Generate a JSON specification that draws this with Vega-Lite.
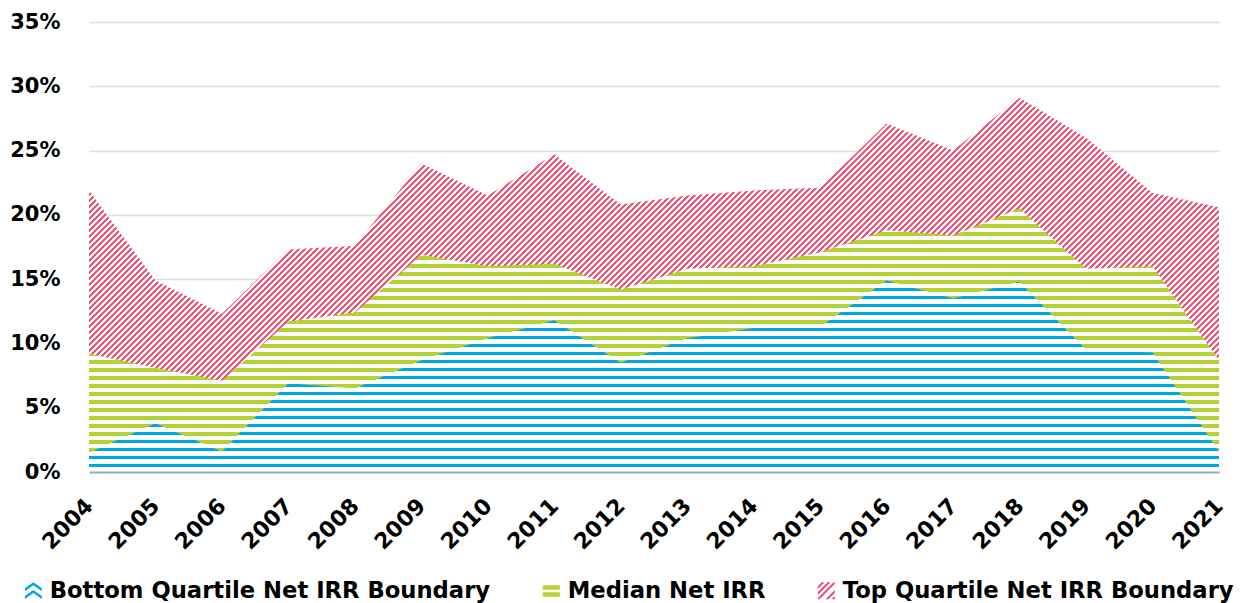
{
"$schema":"https://vega.github.io/schema/vega-lite/v6.json",
"width":1130,"height":450,
"autosize":{"type":"none"},
"padding":{"left":89,"top":22,"right":25,"bottom":131},
"background":"white",
"data":{"values":[
{"year":"2004","top":21.9,"median":9.2,"bottom":1.5},
{"year":"2005","top":14.9,"median":8.1,"bottom":3.8},
{"year":"2006","top":12.3,"median":7.1,"bottom":1.6},
{"year":"2007","top":17.3,"median":11.7,"bottom":6.9},
{"year":"2008","top":17.6,"median":12.4,"bottom":6.5},
{"year":"2009","top":24.0,"median":16.9,"bottom":8.7},
{"year":"2010","top":21.5,"median":16.0,"bottom":10.4},
{"year":"2011","top":24.7,"median":16.2,"bottom":11.8},
{"year":"2012","top":20.8,"median":14.2,"bottom":8.5},
{"year":"2013","top":21.5,"median":15.8,"bottom":10.4},
{"year":"2014","top":21.9,"median":16.0,"bottom":11.2},
{"year":"2015","top":22.1,"median":17.1,"bottom":11.3},
{"year":"2016","top":27.1,"median":18.8,"bottom":14.9},
{"year":"2017","top":25.0,"median":18.4,"bottom":13.5},
{"year":"2018","top":29.1,"median":20.5,"bottom":14.8},
{"year":"2019","top":26.0,"median":15.8,"bottom":9.5},
{"year":"2020","top":21.7,"median":16.0,"bottom":9.3},
{"year":"2021","top":20.6,"median":8.7,"bottom":1.6}
]},
"encoding":{"x":{"field":"year","type":"ordinal","scale":{"type":"point","padding":0},"title":null,
"axis":{"labelAngle":-45,"labelAlign":"right","labelBaseline":"middle","labelPadding":30,"labelFont":"DejaVu Sans","labelFontSize":22,"labelFontWeight":"bold","labelColor":"#000","domainColor":"#8fb1ca","domainWidth":2,"ticks":false,"tickSize":0,"grid":false,"zindex":1}}},
"layer":[
{"mark":{"type":"area","interpolate":"linear","opacity":1,"fill":{"gradient":"linear","x1":0,"y1":0,"x2":1.19629,"y2":0.39609,"stops":[
{"offset":0.000,"color":"#e57"},{"offset":0.002,"color":"#e57"},{"offset":0.002,"color":"#fff"},{"offset":0.004,"color":"#fff"},
{"offset":0.004,"color":"#e57"},{"offset":0.006,"color":"#e57"},{"offset":0.006,"color":"#fff"},{"offset":0.008,"color":"#fff"},
{"offset":0.008,"color":"#e57"},{"offset":0.010,"color":"#e57"},{"offset":0.010,"color":"#fff"},{"offset":0.012,"color":"#fff"},
{"offset":0.012,"color":"#e57"},{"offset":0.014,"color":"#e57"},{"offset":0.014,"color":"#fff"},{"offset":0.016,"color":"#fff"},
{"offset":0.016,"color":"#e57"},{"offset":0.018,"color":"#e57"},{"offset":0.018,"color":"#fff"},{"offset":0.020,"color":"#fff"},
{"offset":0.020,"color":"#e57"},{"offset":0.022,"color":"#e57"},{"offset":0.022,"color":"#fff"},{"offset":0.024,"color":"#fff"},
{"offset":0.024,"color":"#e57"},{"offset":0.026,"color":"#e57"},{"offset":0.026,"color":"#fff"},{"offset":0.028,"color":"#fff"},
{"offset":0.028,"color":"#e57"},{"offset":0.030,"color":"#e57"},{"offset":0.030,"color":"#fff"},{"offset":0.032,"color":"#fff"},
{"offset":0.032,"color":"#e57"},{"offset":0.034,"color":"#e57"},{"offset":0.034,"color":"#fff"},{"offset":0.036,"color":"#fff"},
{"offset":0.036,"color":"#e57"},{"offset":0.038,"color":"#e57"},{"offset":0.038,"color":"#fff"},{"offset":0.040,"color":"#fff"},
{"offset":0.040,"color":"#e57"},{"offset":0.042,"color":"#e57"},{"offset":0.042,"color":"#fff"},{"offset":0.044,"color":"#fff"},
{"offset":0.044,"color":"#e57"},{"offset":0.046,"color":"#e57"},{"offset":0.046,"color":"#fff"},{"offset":0.048,"color":"#fff"},
{"offset":0.048,"color":"#e57"},{"offset":0.050,"color":"#e57"},{"offset":0.050,"color":"#fff"},{"offset":0.052,"color":"#fff"},
{"offset":0.052,"color":"#e57"},{"offset":0.054,"color":"#e57"},{"offset":0.054,"color":"#fff"},{"offset":0.056,"color":"#fff"},
{"offset":0.056,"color":"#e57"},{"offset":0.058,"color":"#e57"},{"offset":0.058,"color":"#fff"},{"offset":0.060,"color":"#fff"},
{"offset":0.060,"color":"#e57"},{"offset":0.062,"color":"#e57"},{"offset":0.062,"color":"#fff"},{"offset":0.064,"color":"#fff"},
{"offset":0.064,"color":"#e57"},{"offset":0.066,"color":"#e57"},{"offset":0.066,"color":"#fff"},{"offset":0.068,"color":"#fff"},
{"offset":0.068,"color":"#e57"},{"offset":0.070,"color":"#e57"},{"offset":0.070,"color":"#fff"},{"offset":0.072,"color":"#fff"},
{"offset":0.072,"color":"#e57"},{"offset":0.074,"color":"#e57"},{"offset":0.074,"color":"#fff"},{"offset":0.076,"color":"#fff"},
{"offset":0.076,"color":"#e57"},{"offset":0.078,"color":"#e57"},{"offset":0.078,"color":"#fff"},{"offset":0.080,"color":"#fff"},
{"offset":0.080,"color":"#e57"},{"offset":0.082,"color":"#e57"},{"offset":0.082,"color":"#fff"},{"offset":0.084,"color":"#fff"},
{"offset":0.084,"color":"#e57"},{"offset":0.086,"color":"#e57"},{"offset":0.086,"color":"#fff"},{"offset":0.088,"color":"#fff"},
{"offset":0.088,"color":"#e57"},{"offset":0.090,"color":"#e57"},{"offset":0.090,"color":"#fff"},{"offset":0.092,"color":"#fff"},
{"offset":0.092,"color":"#e57"},{"offset":0.094,"color":"#e57"},{"offset":0.094,"color":"#fff"},{"offset":0.096,"color":"#fff"},
{"offset":0.096,"color":"#e57"},{"offset":0.098,"color":"#e57"},{"offset":0.098,"color":"#fff"},{"offset":0.100,"color":"#fff"},
{"offset":0.100,"color":"#e57"},{"offset":0.102,"color":"#e57"},{"offset":0.102,"color":"#fff"},{"offset":0.104,"color":"#fff"},
{"offset":0.104,"color":"#e57"},{"offset":0.106,"color":"#e57"},{"offset":0.106,"color":"#fff"},{"offset":0.108,"color":"#fff"},
{"offset":0.108,"color":"#e57"},{"offset":0.110,"color":"#e57"},{"offset":0.110,"color":"#fff"},{"offset":0.112,"color":"#fff"},
{"offset":0.112,"color":"#e57"},{"offset":0.114,"color":"#e57"},{"offset":0.114,"color":"#fff"},{"offset":0.116,"color":"#fff"},
{"offset":0.116,"color":"#e57"},{"offset":0.118,"color":"#e57"},{"offset":0.118,"color":"#fff"},{"offset":0.120,"color":"#fff"},
{"offset":0.120,"color":"#e57"},{"offset":0.122,"color":"#e57"},{"offset":0.122,"color":"#fff"},{"offset":0.124,"color":"#fff"},
{"offset":0.124,"color":"#e57"},{"offset":0.126,"color":"#e57"},{"offset":0.126,"color":"#fff"},{"offset":0.128,"color":"#fff"},
{"offset":0.128,"color":"#e57"},{"offset":0.130,"color":"#e57"},{"offset":0.130,"color":"#fff"},{"offset":0.132,"color":"#fff"},
{"offset":0.132,"color":"#e57"},{"offset":0.134,"color":"#e57"},{"offset":0.134,"color":"#fff"},{"offset":0.136,"color":"#fff"},
{"offset":0.136,"color":"#e57"},{"offset":0.138,"color":"#e57"},{"offset":0.138,"color":"#fff"},{"offset":0.140,"color":"#fff"},
{"offset":0.140,"color":"#e57"},{"offset":0.142,"color":"#e57"},{"offset":0.142,"color":"#fff"},{"offset":0.144,"color":"#fff"},
{"offset":0.144,"color":"#e57"},{"offset":0.146,"color":"#e57"},{"offset":0.146,"color":"#fff"},{"offset":0.148,"color":"#fff"},
{"offset":0.148,"color":"#e57"},{"offset":0.150,"color":"#e57"},{"offset":0.150,"color":"#fff"},{"offset":0.152,"color":"#fff"},
{"offset":0.152,"color":"#e57"},{"offset":0.154,"color":"#e57"},{"offset":0.154,"color":"#fff"},{"offset":0.156,"color":"#fff"},
{"offset":0.156,"color":"#e57"},{"offset":0.158,"color":"#e57"},{"offset":0.158,"color":"#fff"},{"offset":0.160,"color":"#fff"},
{"offset":0.160,"color":"#e57"},{"offset":0.162,"color":"#e57"},{"offset":0.162,"color":"#fff"},{"offset":0.164,"color":"#fff"},
{"offset":0.164,"color":"#e57"},{"offset":0.166,"color":"#e57"},{"offset":0.166,"color":"#fff"},{"offset":0.168,"color":"#fff"},
{"offset":0.168,"color":"#e57"},{"offset":0.170,"color":"#e57"},{"offset":0.170,"color":"#fff"},{"offset":0.172,"color":"#fff"},
{"offset":0.172,"color":"#e57"},{"offset":0.174,"color":"#e57"},{"offset":0.174,"color":"#fff"},{"offset":0.176,"color":"#fff"},
{"offset":0.176,"color":"#e57"},{"offset":0.178,"color":"#e57"},{"offset":0.178,"color":"#fff"},{"offset":0.180,"color":"#fff"},
{"offset":0.180,"color":"#e57"},{"offset":0.182,"color":"#e57"},{"offset":0.182,"color":"#fff"},{"offset":0.184,"color":"#fff"},
{"offset":0.184,"color":"#e57"},{"offset":0.186,"color":"#e57"},{"offset":0.186,"color":"#fff"},{"offset":0.188,"color":"#fff"},
{"offset":0.188,"color":"#e57"},{"offset":0.190,"color":"#e57"},{"offset":0.190,"color":"#fff"},{"offset":0.192,"color":"#fff"},
{"offset":0.192,"color":"#e57"},{"offset":0.194,"color":"#e57"},{"offset":0.194,"color":"#fff"},{"offset":0.196,"color":"#fff"},
{"offset":0.196,"color":"#e57"},{"offset":0.198,"color":"#e57"},{"offset":0.198,"color":"#fff"},{"offset":0.200,"color":"#fff"},
{"offset":0.200,"color":"#e57"},{"offset":0.202,"color":"#e57"},{"offset":0.202,"color":"#fff"},{"offset":0.204,"color":"#fff"},
{"offset":0.204,"color":"#e57"},{"offset":0.206,"color":"#e57"},{"offset":0.206,"color":"#fff"},{"offset":0.208,"color":"#fff"},
{"offset":0.208,"color":"#e57"},{"offset":0.210,"color":"#e57"},{"offset":0.210,"color":"#fff"},{"offset":0.212,"color":"#fff"},
{"offset":0.212,"color":"#e57"},{"offset":0.214,"color":"#e57"},{"offset":0.214,"color":"#fff"},{"offset":0.216,"color":"#fff"},
{"offset":0.216,"color":"#e57"},{"offset":0.218,"color":"#e57"},{"offset":0.218,"color":"#fff"},{"offset":0.220,"color":"#fff"},
{"offset":0.220,"color":"#e57"},{"offset":0.222,"color":"#e57"},{"offset":0.222,"color":"#fff"},{"offset":0.224,"color":"#fff"},
{"offset":0.224,"color":"#e57"},{"offset":0.226,"color":"#e57"},{"offset":0.226,"color":"#fff"},{"offset":0.228,"color":"#fff"},
{"offset":0.228,"color":"#e57"},{"offset":0.230,"color":"#e57"},{"offset":0.230,"color":"#fff"},{"offset":0.232,"color":"#fff"},
{"offset":0.232,"color":"#e57"},{"offset":0.234,"color":"#e57"},{"offset":0.234,"color":"#fff"},{"offset":0.236,"color":"#fff"},
{"offset":0.236,"color":"#e57"},{"offset":0.238,"color":"#e57"},{"offset":0.238,"color":"#fff"},{"offset":0.240,"color":"#fff"},
{"offset":0.240,"color":"#e57"},{"offset":0.242,"color":"#e57"},{"offset":0.242,"color":"#fff"},{"offset":0.244,"color":"#fff"},
{"offset":0.244,"color":"#e57"},{"offset":0.246,"color":"#e57"},{"offset":0.246,"color":"#fff"},{"offset":0.248,"color":"#fff"},
{"offset":0.248,"color":"#e57"},{"offset":0.250,"color":"#e57"},{"offset":0.250,"color":"#fff"},{"offset":0.252,"color":"#fff"},
{"offset":0.252,"color":"#e57"},{"offset":0.254,"color":"#e57"},{"offset":0.254,"color":"#fff"},{"offset":0.256,"color":"#fff"},
{"offset":0.256,"color":"#e57"},{"offset":0.258,"color":"#e57"},{"offset":0.258,"color":"#fff"},{"offset":0.260,"color":"#fff"},
{"offset":0.260,"color":"#e57"},{"offset":0.262,"color":"#e57"},{"offset":0.262,"color":"#fff"},{"offset":0.264,"color":"#fff"},
{"offset":0.264,"color":"#e57"},{"offset":0.266,"color":"#e57"},{"offset":0.266,"color":"#fff"},{"offset":0.268,"color":"#fff"},
{"offset":0.268,"color":"#e57"},{"offset":0.270,"color":"#e57"},{"offset":0.270,"color":"#fff"},{"offset":0.272,"color":"#fff"},
{"offset":0.272,"color":"#e57"},{"offset":0.274,"color":"#e57"},{"offset":0.274,"color":"#fff"},{"offset":0.276,"color":"#fff"},
{"offset":0.276,"color":"#e57"},{"offset":0.278,"color":"#e57"},{"offset":0.278,"color":"#fff"},{"offset":0.280,"color":"#fff"},
{"offset":0.280,"color":"#e57"},{"offset":0.282,"color":"#e57"},{"offset":0.282,"color":"#fff"},{"offset":0.284,"color":"#fff"},
{"offset":0.284,"color":"#e57"},{"offset":0.286,"color":"#e57"},{"offset":0.286,"color":"#fff"},{"offset":0.288,"color":"#fff"},
{"offset":0.288,"color":"#e57"},{"offset":0.290,"color":"#e57"},{"offset":0.290,"color":"#fff"},{"offset":0.292,"color":"#fff"},
{"offset":0.292,"color":"#e57"},{"offset":0.294,"color":"#e57"},{"offset":0.294,"color":"#fff"},{"offset":0.296,"color":"#fff"},
{"offset":0.296,"color":"#e57"},{"offset":0.298,"color":"#e57"},{"offset":0.298,"color":"#fff"},{"offset":0.300,"color":"#fff"},
{"offset":0.300,"color":"#e57"},{"offset":0.302,"color":"#e57"},{"offset":0.302,"color":"#fff"},{"offset":0.304,"color":"#fff"},
{"offset":0.304,"color":"#e57"},{"offset":0.306,"color":"#e57"},{"offset":0.306,"color":"#fff"},{"offset":0.308,"color":"#fff"},
{"offset":0.308,"color":"#e57"},{"offset":0.310,"color":"#e57"},{"offset":0.310,"color":"#fff"},{"offset":0.312,"color":"#fff"},
{"offset":0.312,"color":"#e57"},{"offset":0.314,"color":"#e57"},{"offset":0.314,"color":"#fff"},{"offset":0.316,"color":"#fff"},
{"offset":0.316,"color":"#e57"},{"offset":0.318,"color":"#e57"},{"offset":0.318,"color":"#fff"},{"offset":0.320,"color":"#fff"},
{"offset":0.320,"color":"#e57"},{"offset":0.322,"color":"#e57"},{"offset":0.322,"color":"#fff"},{"offset":0.324,"color":"#fff"},
{"offset":0.324,"color":"#e57"},{"offset":0.326,"color":"#e57"},{"offset":0.326,"color":"#fff"},{"offset":0.328,"color":"#fff"},
{"offset":0.328,"color":"#e57"},{"offset":0.330,"color":"#e57"},{"offset":0.330,"color":"#fff"},{"offset":0.332,"color":"#fff"},
{"offset":0.332,"color":"#e57"},{"offset":0.334,"color":"#e57"},{"offset":0.334,"color":"#fff"},{"offset":0.336,"color":"#fff"},
{"offset":0.336,"color":"#e57"},{"offset":0.338,"color":"#e57"},{"offset":0.338,"color":"#fff"},{"offset":0.340,"color":"#fff"},
{"offset":0.340,"color":"#e57"},{"offset":0.342,"color":"#e57"},{"offset":0.342,"color":"#fff"},{"offset":0.344,"color":"#fff"},
{"offset":0.344,"color":"#e57"},{"offset":0.346,"color":"#e57"},{"offset":0.346,"color":"#fff"},{"offset":0.348,"color":"#fff"},
{"offset":0.348,"color":"#e57"},{"offset":0.350,"color":"#e57"},{"offset":0.350,"color":"#fff"},{"offset":0.352,"color":"#fff"},
{"offset":0.352,"color":"#e57"},{"offset":0.354,"color":"#e57"},{"offset":0.354,"color":"#fff"},{"offset":0.356,"color":"#fff"},
{"offset":0.356,"color":"#e57"},{"offset":0.358,"color":"#e57"},{"offset":0.358,"color":"#fff"},{"offset":0.360,"color":"#fff"},
{"offset":0.360,"color":"#e57"},{"offset":0.362,"color":"#e57"},{"offset":0.362,"color":"#fff"},{"offset":0.364,"color":"#fff"},
{"offset":0.364,"color":"#e57"},{"offset":0.366,"color":"#e57"},{"offset":0.366,"color":"#fff"},{"offset":0.368,"color":"#fff"},
{"offset":0.368,"color":"#e57"},{"offset":0.370,"color":"#e57"},{"offset":0.370,"color":"#fff"},{"offset":0.372,"color":"#fff"},
{"offset":0.372,"color":"#e57"},{"offset":0.374,"color":"#e57"},{"offset":0.374,"color":"#fff"},{"offset":0.376,"color":"#fff"},
{"offset":0.376,"color":"#e57"},{"offset":0.378,"color":"#e57"},{"offset":0.378,"color":"#fff"},{"offset":0.380,"color":"#fff"},
{"offset":0.380,"color":"#e57"},{"offset":0.382,"color":"#e57"},{"offset":0.382,"color":"#fff"},{"offset":0.384,"color":"#fff"},
{"offset":0.384,"color":"#e57"},{"offset":0.386,"color":"#e57"},{"offset":0.386,"color":"#fff"},{"offset":0.388,"color":"#fff"},
{"offset":0.388,"color":"#e57"},{"offset":0.390,"color":"#e57"},{"offset":0.390,"color":"#fff"},{"offset":0.392,"color":"#fff"},
{"offset":0.392,"color":"#e57"},{"offset":0.394,"color":"#e57"},{"offset":0.394,"color":"#fff"},{"offset":0.396,"color":"#fff"},
{"offset":0.396,"color":"#e57"},{"offset":0.398,"color":"#e57"},{"offset":0.398,"color":"#fff"},{"offset":0.400,"color":"#fff"},
{"offset":0.400,"color":"#e57"},{"offset":0.402,"color":"#e57"},{"offset":0.402,"color":"#fff"},{"offset":0.404,"color":"#fff"},
{"offset":0.404,"color":"#e57"},{"offset":0.406,"color":"#e57"},{"offset":0.406,"color":"#fff"},{"offset":0.408,"color":"#fff"},
{"offset":0.408,"color":"#e57"},{"offset":0.410,"color":"#e57"},{"offset":0.410,"color":"#fff"},{"offset":0.412,"color":"#fff"},
{"offset":0.412,"color":"#e57"},{"offset":0.414,"color":"#e57"},{"offset":0.414,"color":"#fff"},{"offset":0.416,"color":"#fff"},
{"offset":0.416,"color":"#e57"},{"offset":0.418,"color":"#e57"},{"offset":0.418,"color":"#fff"},{"offset":0.420,"color":"#fff"},
{"offset":0.420,"color":"#e57"},{"offset":0.422,"color":"#e57"},{"offset":0.422,"color":"#fff"},{"offset":0.424,"color":"#fff"},
{"offset":0.424,"color":"#e57"},{"offset":0.426,"color":"#e57"},{"offset":0.426,"color":"#fff"},{"offset":0.428,"color":"#fff"},
{"offset":0.428,"color":"#e57"},{"offset":0.430,"color":"#e57"},{"offset":0.430,"color":"#fff"},{"offset":0.432,"color":"#fff"},
{"offset":0.432,"color":"#e57"},{"offset":0.434,"color":"#e57"},{"offset":0.434,"color":"#fff"},{"offset":0.436,"color":"#fff"},
{"offset":0.436,"color":"#e57"},{"offset":0.438,"color":"#e57"},{"offset":0.438,"color":"#fff"},{"offset":0.440,"color":"#fff"},
{"offset":0.440,"color":"#e57"},{"offset":0.442,"color":"#e57"},{"offset":0.442,"color":"#fff"},{"offset":0.444,"color":"#fff"},
{"offset":0.444,"color":"#e57"},{"offset":0.446,"color":"#e57"},{"offset":0.446,"color":"#fff"},{"offset":0.448,"color":"#fff"},
{"offset":0.448,"color":"#e57"},{"offset":0.450,"color":"#e57"},{"offset":0.450,"color":"#fff"},{"offset":0.452,"color":"#fff"},
{"offset":0.452,"color":"#e57"},{"offset":0.454,"color":"#e57"},{"offset":0.454,"color":"#fff"},{"offset":0.456,"color":"#fff"},
{"offset":0.456,"color":"#e57"},{"offset":0.458,"color":"#e57"},{"offset":0.458,"color":"#fff"},{"offset":0.460,"color":"#fff"},
{"offset":0.460,"color":"#e57"},{"offset":0.462,"color":"#e57"},{"offset":0.462,"color":"#fff"},{"offset":0.464,"color":"#fff"},
{"offset":0.464,"color":"#e57"},{"offset":0.466,"color":"#e57"},{"offset":0.466,"color":"#fff"},{"offset":0.468,"color":"#fff"},
{"offset":0.468,"color":"#e57"},{"offset":0.470,"color":"#e57"},{"offset":0.470,"color":"#fff"},{"offset":0.472,"color":"#fff"},
{"offset":0.472,"color":"#e57"},{"offset":0.474,"color":"#e57"},{"offset":0.474,"color":"#fff"},{"offset":0.476,"color":"#fff"},
{"offset":0.476,"color":"#e57"},{"offset":0.478,"color":"#e57"},{"offset":0.478,"color":"#fff"},{"offset":0.480,"color":"#fff"},
{"offset":0.480,"color":"#e57"},{"offset":0.482,"color":"#e57"},{"offset":0.482,"color":"#fff"},{"offset":0.484,"color":"#fff"},
{"offset":0.484,"color":"#e57"},{"offset":0.486,"color":"#e57"},{"offset":0.486,"color":"#fff"},{"offset":0.488,"color":"#fff"},
{"offset":0.488,"color":"#e57"},{"offset":0.490,"color":"#e57"},{"offset":0.490,"color":"#fff"},{"offset":0.492,"color":"#fff"},
{"offset":0.492,"color":"#e57"},{"offset":0.494,"color":"#e57"},{"offset":0.494,"color":"#fff"},{"offset":0.496,"color":"#fff"},
{"offset":0.496,"color":"#e57"},{"offset":0.498,"color":"#e57"},{"offset":0.498,"color":"#fff"},{"offset":0.500,"color":"#fff"},
{"offset":0.500,"color":"#e57"},{"offset":0.502,"color":"#e57"},{"offset":0.502,"color":"#fff"},{"offset":0.504,"color":"#fff"},
{"offset":0.504,"color":"#e57"},{"offset":0.506,"color":"#e57"},{"offset":0.506,"color":"#fff"},{"offset":0.508,"color":"#fff"},
{"offset":0.508,"color":"#e57"},{"offset":0.510,"color":"#e57"},{"offset":0.510,"color":"#fff"},{"offset":0.512,"color":"#fff"},
{"offset":0.512,"color":"#e57"},{"offset":0.514,"color":"#e57"},{"offset":0.514,"color":"#fff"},{"offset":0.516,"color":"#fff"},
{"offset":0.516,"color":"#e57"},{"offset":0.518,"color":"#e57"},{"offset":0.518,"color":"#fff"},{"offset":0.520,"color":"#fff"},
{"offset":0.520,"color":"#e57"},{"offset":0.522,"color":"#e57"},{"offset":0.522,"color":"#fff"},{"offset":0.524,"color":"#fff"},
{"offset":0.524,"color":"#e57"},{"offset":0.526,"color":"#e57"},{"offset":0.526,"color":"#fff"},{"offset":0.528,"color":"#fff"},
{"offset":0.528,"color":"#e57"},{"offset":0.530,"color":"#e57"},{"offset":0.530,"color":"#fff"},{"offset":0.532,"color":"#fff"},
{"offset":0.532,"color":"#e57"},{"offset":0.534,"color":"#e57"},{"offset":0.534,"color":"#fff"},{"offset":0.536,"color":"#fff"},
{"offset":0.536,"color":"#e57"},{"offset":0.538,"color":"#e57"},{"offset":0.538,"color":"#fff"},{"offset":0.540,"color":"#fff"},
{"offset":0.540,"color":"#e57"},{"offset":0.542,"color":"#e57"},{"offset":0.542,"color":"#fff"},{"offset":0.544,"color":"#fff"},
{"offset":0.544,"color":"#e57"},{"offset":0.546,"color":"#e57"},{"offset":0.546,"color":"#fff"},{"offset":0.548,"color":"#fff"},
{"offset":0.548,"color":"#e57"},{"offset":0.550,"color":"#e57"},{"offset":0.550,"color":"#fff"},{"offset":0.552,"color":"#fff"},
{"offset":0.552,"color":"#e57"},{"offset":0.554,"color":"#e57"},{"offset":0.554,"color":"#fff"},{"offset":0.556,"color":"#fff"},
{"offset":0.556,"color":"#e57"},{"offset":0.558,"color":"#e57"},{"offset":0.558,"color":"#fff"},{"offset":0.560,"color":"#fff"},
{"offset":0.560,"color":"#e57"},{"offset":0.562,"color":"#e57"},{"offset":0.562,"color":"#fff"},{"offset":0.564,"color":"#fff"},
{"offset":0.564,"color":"#e57"},{"offset":0.566,"color":"#e57"},{"offset":0.566,"color":"#fff"},{"offset":0.568,"color":"#fff"},
{"offset":0.568,"color":"#e57"},{"offset":0.570,"color":"#e57"},{"offset":0.570,"color":"#fff"},{"offset":0.572,"color":"#fff"},
{"offset":0.572,"color":"#e57"},{"offset":0.574,"color":"#e57"},{"offset":0.574,"color":"#fff"},{"offset":0.576,"color":"#fff"},
{"offset":0.576,"color":"#e57"},{"offset":0.578,"color":"#e57"},{"offset":0.578,"color":"#fff"},{"offset":0.580,"color":"#fff"},
{"offset":0.580,"color":"#e57"},{"offset":0.582,"color":"#e57"},{"offset":0.582,"color":"#fff"},{"offset":0.584,"color":"#fff"},
{"offset":0.584,"color":"#e57"},{"offset":0.586,"color":"#e57"},{"offset":0.586,"color":"#fff"},{"offset":0.588,"color":"#fff"},
{"offset":0.588,"color":"#e57"},{"offset":0.590,"color":"#e57"},{"offset":0.590,"color":"#fff"},{"offset":0.592,"color":"#fff"},
{"offset":0.592,"color":"#e57"},{"offset":0.594,"color":"#e57"},{"offset":0.594,"color":"#fff"},{"offset":0.596,"color":"#fff"},
{"offset":0.596,"color":"#e57"},{"offset":0.598,"color":"#e57"},{"offset":0.598,"color":"#fff"},{"offset":0.600,"color":"#fff"},
{"offset":0.600,"color":"#e57"},{"offset":0.602,"color":"#e57"},{"offset":0.602,"color":"#fff"},{"offset":0.604,"color":"#fff"},
{"offset":0.604,"color":"#e57"},{"offset":0.606,"color":"#e57"},{"offset":0.606,"color":"#fff"},{"offset":0.608,"color":"#fff"},
{"offset":0.608,"color":"#e57"},{"offset":0.610,"color":"#e57"},{"offset":0.610,"color":"#fff"},{"offset":0.612,"color":"#fff"},
{"offset":0.612,"color":"#e57"},{"offset":0.614,"color":"#e57"},{"offset":0.614,"color":"#fff"},{"offset":0.616,"color":"#fff"},
{"offset":0.616,"color":"#e57"},{"offset":0.618,"color":"#e57"},{"offset":0.618,"color":"#fff"},{"offset":0.620,"color":"#fff"},
{"offset":0.620,"color":"#e57"},{"offset":0.622,"color":"#e57"},{"offset":0.622,"color":"#fff"},{"offset":0.624,"color":"#fff"},
{"offset":0.624,"color":"#e57"},{"offset":0.626,"color":"#e57"},{"offset":0.626,"color":"#fff"},{"offset":0.628,"color":"#fff"},
{"offset":0.628,"color":"#e57"},{"offset":0.630,"color":"#e57"},{"offset":0.630,"color":"#fff"},{"offset":0.632,"color":"#fff"},
{"offset":0.632,"color":"#e57"},{"offset":0.634,"color":"#e57"},{"offset":0.634,"color":"#fff"},{"offset":0.636,"color":"#fff"},
{"offset":0.636,"color":"#e57"},{"offset":0.638,"color":"#e57"},{"offset":0.638,"color":"#fff"},{"offset":0.640,"color":"#fff"},
{"offset":0.640,"color":"#e57"},{"offset":0.642,"color":"#e57"},{"offset":0.642,"color":"#fff"},{"offset":0.644,"color":"#fff"},
{"offset":0.644,"color":"#e57"},{"offset":0.646,"color":"#e57"},{"offset":0.646,"color":"#fff"},{"offset":0.648,"color":"#fff"},
{"offset":0.648,"color":"#e57"},{"offset":0.650,"color":"#e57"},{"offset":0.650,"color":"#fff"},{"offset":0.652,"color":"#fff"},
{"offset":0.652,"color":"#e57"},{"offset":0.654,"color":"#e57"},{"offset":0.654,"color":"#fff"},{"offset":0.656,"color":"#fff"},
{"offset":0.656,"color":"#e57"},{"offset":0.658,"color":"#e57"},{"offset":0.658,"color":"#fff"},{"offset":0.660,"color":"#fff"},
{"offset":0.660,"color":"#e57"},{"offset":0.662,"color":"#e57"},{"offset":0.662,"color":"#fff"},{"offset":0.664,"color":"#fff"},
{"offset":0.664,"color":"#e57"},{"offset":0.666,"color":"#e57"},{"offset":0.666,"color":"#fff"},{"offset":0.668,"color":"#fff"},
{"offset":0.668,"color":"#e57"},{"offset":0.670,"color":"#e57"},{"offset":0.670,"color":"#fff"},{"offset":0.672,"color":"#fff"},
{"offset":0.672,"color":"#e57"},{"offset":0.674,"color":"#e57"},{"offset":0.674,"color":"#fff"},{"offset":0.676,"color":"#fff"},
{"offset":0.676,"color":"#e57"},{"offset":0.678,"color":"#e57"},{"offset":0.678,"color":"#fff"},{"offset":0.680,"color":"#fff"},
{"offset":0.680,"color":"#e57"},{"offset":0.682,"color":"#e57"},{"offset":0.682,"color":"#fff"},{"offset":0.684,"color":"#fff"},
{"offset":0.684,"color":"#e57"},{"offset":0.686,"color":"#e57"},{"offset":0.686,"color":"#fff"},{"offset":0.688,"color":"#fff"},
{"offset":0.688,"color":"#e57"},{"offset":0.690,"color":"#e57"},{"offset":0.690,"color":"#fff"},{"offset":0.692,"color":"#fff"},
{"offset":0.692,"color":"#e57"},{"offset":0.694,"color":"#e57"},{"offset":0.694,"color":"#fff"},{"offset":0.696,"color":"#fff"},
{"offset":0.696,"color":"#e57"},{"offset":0.698,"color":"#e57"},{"offset":0.698,"color":"#fff"},{"offset":0.700,"color":"#fff"},
{"offset":0.700,"color":"#e57"},{"offset":0.702,"color":"#e57"},{"offset":0.702,"color":"#fff"},{"offset":0.704,"color":"#fff"},
{"offset":0.704,"color":"#e57"},{"offset":0.706,"color":"#e57"},{"offset":0.706,"color":"#fff"},{"offset":0.708,"color":"#fff"},
{"offset":0.708,"color":"#e57"},{"offset":0.710,"color":"#e57"},{"offset":0.710,"color":"#fff"},{"offset":0.712,"color":"#fff"},
{"offset":0.712,"color":"#e57"},{"offset":0.714,"color":"#e57"},{"offset":0.714,"color":"#fff"},{"offset":0.716,"color":"#fff"},
{"offset":0.716,"color":"#e57"},{"offset":0.718,"color":"#e57"},{"offset":0.718,"color":"#fff"},{"offset":0.720,"color":"#fff"},
{"offset":0.720,"color":"#e57"},{"offset":0.722,"color":"#e57"},{"offset":0.722,"color":"#fff"},{"offset":0.724,"color":"#fff"},
{"offset":0.724,"color":"#e57"},{"offset":0.726,"color":"#e57"},{"offset":0.726,"color":"#fff"},{"offset":0.728,"color":"#fff"},
{"offset":0.728,"color":"#e57"},{"offset":0.730,"color":"#e57"},{"offset":0.730,"color":"#fff"},{"offset":0.732,"color":"#fff"},
{"offset":0.732,"color":"#e57"},{"offset":0.734,"color":"#e57"},{"offset":0.734,"color":"#fff"},{"offset":0.736,"color":"#fff"},
{"offset":0.736,"color":"#e57"},{"offset":0.738,"color":"#e57"},{"offset":0.738,"color":"#fff"},{"offset":0.740,"color":"#fff"},
{"offset":0.740,"color":"#e57"},{"offset":0.742,"color":"#e57"},{"offset":0.742,"color":"#fff"},{"offset":0.744,"color":"#fff"},
{"offset":0.744,"color":"#e57"},{"offset":0.746,"color":"#e57"},{"offset":0.746,"color":"#fff"},{"offset":0.748,"color":"#fff"},
{"offset":0.748,"color":"#e57"},{"offset":0.750,"color":"#e57"},{"offset":0.750,"color":"#fff"},{"offset":0.752,"color":"#fff"},
{"offset":0.752,"color":"#e57"},{"offset":0.754,"color":"#e57"},{"offset":0.754,"color":"#fff"},{"offset":0.756,"color":"#fff"},
{"offset":0.756,"color":"#e57"},{"offset":0.758,"color":"#e57"},{"offset":0.758,"color":"#fff"},{"offset":0.760,"color":"#fff"},
{"offset":0.760,"color":"#e57"},{"offset":0.762,"color":"#e57"},{"offset":0.762,"color":"#fff"},{"offset":0.764,"color":"#fff"},
{"offset":0.764,"color":"#e57"},{"offset":0.766,"color":"#e57"},{"offset":0.766,"color":"#fff"},{"offset":0.768,"color":"#fff"},
{"offset":0.768,"color":"#e57"},{"offset":0.770,"color":"#e57"},{"offset":0.770,"color":"#fff"},{"offset":0.772,"color":"#fff"},
{"offset":0.772,"color":"#e57"},{"offset":0.774,"color":"#e57"},{"offset":0.774,"color":"#fff"},{"offset":0.776,"color":"#fff"},
{"offset":0.776,"color":"#e57"},{"offset":0.778,"color":"#e57"},{"offset":0.778,"color":"#fff"},{"offset":0.780,"color":"#fff"},
{"offset":0.780,"color":"#e57"},{"offset":0.782,"color":"#e57"},{"offset":0.782,"color":"#fff"},{"offset":0.784,"color":"#fff"},
{"offset":0.784,"color":"#e57"},{"offset":0.786,"color":"#e57"},{"offset":0.786,"color":"#fff"},{"offset":0.788,"color":"#fff"},
{"offset":0.788,"color":"#e57"},{"offset":0.790,"color":"#e57"},{"offset":0.790,"color":"#fff"},{"offset":0.792,"color":"#fff"},
{"offset":0.792,"color":"#e57"},{"offset":0.794,"color":"#e57"},{"offset":0.794,"color":"#fff"},{"offset":0.796,"color":"#fff"},
{"offset":0.796,"color":"#e57"},{"offset":0.798,"color":"#e57"},{"offset":0.798,"color":"#fff"},{"offset":0.800,"color":"#fff"},
{"offset":0.800,"color":"#e57"},{"offset":0.802,"color":"#e57"},{"offset":0.802,"color":"#fff"},{"offset":0.804,"color":"#fff"},
{"offset":0.804,"color":"#e57"},{"offset":0.806,"color":"#e57"},{"offset":0.806,"color":"#fff"},{"offset":0.808,"color":"#fff"},
{"offset":0.808,"color":"#e57"},{"offset":0.810,"color":"#e57"},{"offset":0.810,"color":"#fff"},{"offset":0.812,"color":"#fff"},
{"offset":0.812,"color":"#e57"},{"offset":0.814,"color":"#e57"},{"offset":0.814,"color":"#fff"},{"offset":0.816,"color":"#fff"},
{"offset":0.816,"color":"#e57"},{"offset":0.818,"color":"#e57"},{"offset":0.818,"color":"#fff"},{"offset":0.820,"color":"#fff"},
{"offset":0.820,"color":"#e57"},{"offset":0.822,"color":"#e57"},{"offset":0.822,"color":"#fff"},{"offset":0.824,"color":"#fff"},
{"offset":0.824,"color":"#e57"},{"offset":0.826,"color":"#e57"},{"offset":0.826,"color":"#fff"},{"offset":0.828,"color":"#fff"},
{"offset":0.828,"color":"#e57"},{"offset":0.830,"color":"#e57"},{"offset":0.830,"color":"#fff"},{"offset":0.832,"color":"#fff"},
{"offset":0.832,"color":"#e57"},{"offset":0.834,"color":"#e57"},{"offset":0.834,"color":"#fff"},{"offset":0.836,"color":"#fff"},
{"offset":0.836,"color":"#e57"},{"offset":0.838,"color":"#e57"},{"offset":0.838,"color":"#fff"},{"offset":0.840,"color":"#fff"},
{"offset":0.840,"color":"#e57"},{"offset":0.842,"color":"#e57"},{"offset":0.842,"color":"#fff"},{"offset":0.844,"color":"#fff"},
{"offset":0.844,"color":"#e57"},{"offset":0.846,"color":"#e57"},{"offset":0.846,"color":"#fff"},{"offset":0.848,"color":"#fff"},
{"offset":0.848,"color":"#e57"},{"offset":0.850,"color":"#e57"},{"offset":0.850,"color":"#fff"},{"offset":0.852,"color":"#fff"},
{"offset":0.852,"color":"#e57"},{"offset":0.854,"color":"#e57"},{"offset":0.854,"color":"#fff"},{"offset":0.856,"color":"#fff"},
{"offset":0.856,"color":"#e57"},{"offset":0.858,"color":"#e57"},{"offset":0.858,"color":"#fff"},{"offset":0.860,"color":"#fff"},
{"offset":0.860,"color":"#e57"},{"offset":0.862,"color":"#e57"},{"offset":0.862,"color":"#fff"},{"offset":0.864,"color":"#fff"},
{"offset":0.864,"color":"#e57"},{"offset":0.866,"color":"#e57"},{"offset":0.866,"color":"#fff"},{"offset":0.868,"color":"#fff"},
{"offset":0.868,"color":"#e57"},{"offset":0.870,"color":"#e57"},{"offset":0.870,"color":"#fff"},{"offset":0.872,"color":"#fff"},
{"offset":0.872,"color":"#e57"},{"offset":0.874,"color":"#e57"},{"offset":0.874,"color":"#fff"},{"offset":0.876,"color":"#fff"},
{"offset":0.876,"color":"#e57"},{"offset":0.878,"color":"#e57"},{"offset":0.878,"color":"#fff"},{"offset":0.880,"color":"#fff"},
{"offset":0.880,"color":"#e57"},{"offset":0.882,"color":"#e57"},{"offset":0.882,"color":"#fff"},{"offset":0.884,"color":"#fff"},
{"offset":0.884,"color":"#e57"},{"offset":0.886,"color":"#e57"},{"offset":0.886,"color":"#fff"},{"offset":0.888,"color":"#fff"},
{"offset":0.888,"color":"#e57"},{"offset":0.890,"color":"#e57"},{"offset":0.890,"color":"#fff"},{"offset":0.892,"color":"#fff"},
{"offset":0.892,"color":"#e57"},{"offset":0.894,"color":"#e57"},{"offset":0.894,"color":"#fff"},{"offset":0.896,"color":"#fff"},
{"offset":0.896,"color":"#e57"},{"offset":0.898,"color":"#e57"},{"offset":0.898,"color":"#fff"},{"offset":0.900,"color":"#fff"},
{"offset":0.900,"color":"#e57"},{"offset":0.902,"color":"#e57"},{"offset":0.902,"color":"#fff"},{"offset":0.904,"color":"#fff"},
{"offset":0.904,"color":"#e57"},{"offset":0.906,"color":"#e57"},{"offset":0.906,"color":"#fff"},{"offset":0.908,"color":"#fff"},
{"offset":0.908,"color":"#e57"},{"offset":0.910,"color":"#e57"},{"offset":0.910,"color":"#fff"},{"offset":0.912,"color":"#fff"},
{"offset":0.912,"color":"#e57"},{"offset":0.914,"color":"#e57"},{"offset":0.914,"color":"#fff"},{"offset":0.916,"color":"#fff"},
{"offset":0.916,"color":"#e57"},{"offset":0.918,"color":"#e57"},{"offset":0.918,"color":"#fff"},{"offset":0.920,"color":"#fff"},
{"offset":0.920,"color":"#e57"},{"offset":0.922,"color":"#e57"},{"offset":0.922,"color":"#fff"},{"offset":0.924,"color":"#fff"},
{"offset":0.924,"color":"#e57"},{"offset":0.926,"color":"#e57"},{"offset":0.926,"color":"#fff"},{"offset":0.928,"color":"#fff"},
{"offset":0.928,"color":"#e57"},{"offset":0.930,"color":"#e57"},{"offset":0.930,"color":"#fff"},{"offset":0.932,"color":"#fff"},
{"offset":0.932,"color":"#e57"},{"offset":0.934,"color":"#e57"},{"offset":0.934,"color":"#fff"},{"offset":0.936,"color":"#fff"},
{"offset":0.936,"color":"#e57"},{"offset":0.938,"color":"#e57"},{"offset":0.938,"color":"#fff"},{"offset":0.940,"color":"#fff"},
{"offset":0.940,"color":"#e57"},{"offset":0.942,"color":"#e57"},{"offset":0.942,"color":"#fff"},{"offset":0.944,"color":"#fff"},
{"offset":0.944,"color":"#e57"},{"offset":0.946,"color":"#e57"},{"offset":0.946,"color":"#fff"},{"offset":0.948,"color":"#fff"},
{"offset":0.948,"color":"#e57"},{"offset":0.950,"color":"#e57"},{"offset":0.950,"color":"#fff"},{"offset":0.952,"color":"#fff"},
{"offset":0.952,"color":"#e57"},{"offset":0.954,"color":"#e57"},{"offset":0.954,"color":"#fff"},{"offset":0.956,"color":"#fff"},
{"offset":0.956,"color":"#e57"},{"offset":0.958,"color":"#e57"},{"offset":0.958,"color":"#fff"},{"offset":0.960,"color":"#fff"},
{"offset":0.960,"color":"#e57"},{"offset":0.962,"color":"#e57"},{"offset":0.962,"color":"#fff"},{"offset":0.964,"color":"#fff"},
{"offset":0.964,"color":"#e57"},{"offset":0.966,"color":"#e57"},{"offset":0.966,"color":"#fff"},{"offset":0.968,"color":"#fff"},
{"offset":0.968,"color":"#e57"},{"offset":0.970,"color":"#e57"},{"offset":0.970,"color":"#fff"},{"offset":0.972,"color":"#fff"},
{"offset":0.972,"color":"#e57"},{"offset":0.974,"color":"#e57"},{"offset":0.974,"color":"#fff"},{"offset":0.976,"color":"#fff"},
{"offset":0.976,"color":"#e57"},{"offset":0.978,"color":"#e57"},{"offset":0.978,"color":"#fff"},{"offset":0.980,"color":"#fff"},
{"offset":0.980,"color":"#e57"},{"offset":0.982,"color":"#e57"},{"offset":0.982,"color":"#fff"},{"offset":0.984,"color":"#fff"},
{"offset":0.984,"color":"#e57"},{"offset":0.986,"color":"#e57"},{"offset":0.986,"color":"#fff"},{"offset":0.988,"color":"#fff"},
{"offset":0.988,"color":"#e57"},{"offset":0.990,"color":"#e57"},{"offset":0.990,"color":"#fff"},{"offset":0.992,"color":"#fff"},
{"offset":0.992,"color":"#e57"},{"offset":0.994,"color":"#e57"},{"offset":0.994,"color":"#fff"},{"offset":0.996,"color":"#fff"},
{"offset":0.996,"color":"#e57"},{"offset":0.998,"color":"#e57"},{"offset":0.998,"color":"#fff"},{"offset":1.000,"color":"#fff"}
]}},
"encoding":{"y":{"field":"top","type":"quantitative","title":null,"scale":{"domain":[0,35],"nice":false},
"axis":{"values":[0,5,10,15,20,25,30,35],"labelExpr":"datum.value + '%'","domain":false,"ticks":false,"tickSize":0,"grid":true,"gridColor":"#dedede","gridWidth":1.5,"labelFont":"DejaVu Sans","labelFontSize":21,"labelFontWeight":"bold","labelColor":"#000","labelPadding":29}}}},
{"mark":{"type":"area","interpolate":"linear","opacity":1,"fill":{"gradient":"linear","x1":0,"y1":-0.001627,"x2":0,"y2":1.010117,"stops":[
{"offset":0,"color":"#b4d236"},{"offset":0.015,"color":"#b4d236"},{"offset":0.015,"color":"#fff"},{"offset":0.03,"color":"#fff"},
{"offset":0.03,"color":"#b4d236"},{"offset":0.045,"color":"#b4d236"},{"offset":0.045,"color":"#fff"},{"offset":0.06,"color":"#fff"},
{"offset":0.06,"color":"#b4d236"},{"offset":0.075,"color":"#b4d236"},{"offset":0.075,"color":"#fff"},{"offset":0.09,"color":"#fff"},
{"offset":0.09,"color":"#b4d236"},{"offset":0.105,"color":"#b4d236"},{"offset":0.105,"color":"#fff"},{"offset":0.12,"color":"#fff"},
{"offset":0.12,"color":"#b4d236"},{"offset":0.135,"color":"#b4d236"},{"offset":0.135,"color":"#fff"},{"offset":0.15,"color":"#fff"},
{"offset":0.15,"color":"#b4d236"},{"offset":0.165,"color":"#b4d236"},{"offset":0.165,"color":"#fff"},{"offset":0.18,"color":"#fff"},
{"offset":0.18,"color":"#b4d236"},{"offset":0.195,"color":"#b4d236"},{"offset":0.195,"color":"#fff"},{"offset":0.21,"color":"#fff"},
{"offset":0.21,"color":"#b4d236"},{"offset":0.225,"color":"#b4d236"},{"offset":0.225,"color":"#fff"},{"offset":0.24,"color":"#fff"},
{"offset":0.24,"color":"#b4d236"},{"offset":0.255,"color":"#b4d236"},{"offset":0.255,"color":"#fff"},{"offset":0.27,"color":"#fff"},
{"offset":0.27,"color":"#b4d236"},{"offset":0.285,"color":"#b4d236"},{"offset":0.285,"color":"#fff"},{"offset":0.3,"color":"#fff"},
{"offset":0.3,"color":"#b4d236"},{"offset":0.315,"color":"#b4d236"},{"offset":0.315,"color":"#fff"},{"offset":0.33,"color":"#fff"},
{"offset":0.33,"color":"#b4d236"},{"offset":0.345,"color":"#b4d236"},{"offset":0.345,"color":"#fff"},{"offset":0.36,"color":"#fff"},
{"offset":0.36,"color":"#b4d236"},{"offset":0.375,"color":"#b4d236"},{"offset":0.375,"color":"#fff"},{"offset":0.39,"color":"#fff"},
{"offset":0.39,"color":"#b4d236"},{"offset":0.405,"color":"#b4d236"},{"offset":0.405,"color":"#fff"},{"offset":0.42,"color":"#fff"},
{"offset":0.42,"color":"#b4d236"},{"offset":0.435,"color":"#b4d236"},{"offset":0.435,"color":"#fff"},{"offset":0.45,"color":"#fff"},
{"offset":0.45,"color":"#b4d236"},{"offset":0.465,"color":"#b4d236"},{"offset":0.465,"color":"#fff"},{"offset":0.48,"color":"#fff"},
{"offset":0.48,"color":"#b4d236"},{"offset":0.495,"color":"#b4d236"},{"offset":0.495,"color":"#fff"},{"offset":0.51,"color":"#fff"},
{"offset":0.51,"color":"#b4d236"},{"offset":0.525,"color":"#b4d236"},{"offset":0.525,"color":"#fff"},{"offset":0.54,"color":"#fff"},
{"offset":0.54,"color":"#b4d236"},{"offset":0.555,"color":"#b4d236"},{"offset":0.555,"color":"#fff"},{"offset":0.57,"color":"#fff"},
{"offset":0.57,"color":"#b4d236"},{"offset":0.585,"color":"#b4d236"},{"offset":0.585,"color":"#fff"},{"offset":0.6,"color":"#fff"},
{"offset":0.6,"color":"#b4d236"},{"offset":0.615,"color":"#b4d236"},{"offset":0.615,"color":"#fff"},{"offset":0.63,"color":"#fff"},
{"offset":0.63,"color":"#b4d236"},{"offset":0.645,"color":"#b4d236"},{"offset":0.645,"color":"#fff"},{"offset":0.66,"color":"#fff"},
{"offset":0.66,"color":"#b4d236"},{"offset":0.675,"color":"#b4d236"},{"offset":0.675,"color":"#fff"},{"offset":0.69,"color":"#fff"},
{"offset":0.69,"color":"#b4d236"},{"offset":0.705,"color":"#b4d236"},{"offset":0.705,"color":"#fff"},{"offset":0.72,"color":"#fff"},
{"offset":0.72,"color":"#b4d236"},{"offset":0.735,"color":"#b4d236"},{"offset":0.735,"color":"#fff"},{"offset":0.75,"color":"#fff"},
{"offset":0.75,"color":"#b4d236"},{"offset":0.765,"color":"#b4d236"},{"offset":0.765,"color":"#fff"},{"offset":0.78,"color":"#fff"},
{"offset":0.78,"color":"#b4d236"},{"offset":0.795,"color":"#b4d236"},{"offset":0.795,"color":"#fff"},{"offset":0.81,"color":"#fff"},
{"offset":0.81,"color":"#b4d236"},{"offset":0.825,"color":"#b4d236"},{"offset":0.825,"color":"#fff"},{"offset":0.84,"color":"#fff"},
{"offset":0.84,"color":"#b4d236"},{"offset":0.855,"color":"#b4d236"},{"offset":0.855,"color":"#fff"},{"offset":0.87,"color":"#fff"},
{"offset":0.87,"color":"#b4d236"},{"offset":0.885,"color":"#b4d236"},{"offset":0.885,"color":"#fff"},{"offset":0.9,"color":"#fff"},
{"offset":0.9,"color":"#b4d236"},{"offset":0.915,"color":"#b4d236"},{"offset":0.915,"color":"#fff"},{"offset":0.93,"color":"#fff"},
{"offset":0.93,"color":"#b4d236"},{"offset":0.945,"color":"#b4d236"},{"offset":0.945,"color":"#fff"},{"offset":0.96,"color":"#fff"},
{"offset":0.96,"color":"#b4d236"},{"offset":0.975,"color":"#b4d236"},{"offset":0.975,"color":"#fff"},{"offset":0.99,"color":"#fff"},
{"offset":0.99,"color":"#b4d236"},{"offset":1,"color":"#b4d236"}
]}},
"encoding":{"y":{"field":"median","type":"quantitative","title":null}}},
{"mark":{"type":"area","interpolate":"linear","opacity":1,"fill":{"gradient":"linear","x1":0,"y1":-0.002239,"x2":0,"y2":1.041758,"stops":[
{"offset":0,"color":"#00a6e6"},{"offset":0.016,"color":"#00a6e6"},{"offset":0.016,"color":"#fff"},{"offset":0.04,"color":"#fff"},
{"offset":0.04,"color":"#00a6e6"},{"offset":0.056,"color":"#00a6e6"},{"offset":0.056,"color":"#fff"},{"offset":0.08,"color":"#fff"},
{"offset":0.08,"color":"#00a6e6"},{"offset":0.096,"color":"#00a6e6"},{"offset":0.096,"color":"#fff"},{"offset":0.12,"color":"#fff"},
{"offset":0.12,"color":"#00a6e6"},{"offset":0.136,"color":"#00a6e6"},{"offset":0.136,"color":"#fff"},{"offset":0.16,"color":"#fff"},
{"offset":0.16,"color":"#00a6e6"},{"offset":0.176,"color":"#00a6e6"},{"offset":0.176,"color":"#fff"},{"offset":0.2,"color":"#fff"},
{"offset":0.2,"color":"#00a6e6"},{"offset":0.216,"color":"#00a6e6"},{"offset":0.216,"color":"#fff"},{"offset":0.24,"color":"#fff"},
{"offset":0.24,"color":"#00a6e6"},{"offset":0.256,"color":"#00a6e6"},{"offset":0.256,"color":"#fff"},{"offset":0.28,"color":"#fff"},
{"offset":0.28,"color":"#00a6e6"},{"offset":0.296,"color":"#00a6e6"},{"offset":0.296,"color":"#fff"},{"offset":0.32,"color":"#fff"},
{"offset":0.32,"color":"#00a6e6"},{"offset":0.336,"color":"#00a6e6"},{"offset":0.336,"color":"#fff"},{"offset":0.36,"color":"#fff"},
{"offset":0.36,"color":"#00a6e6"},{"offset":0.376,"color":"#00a6e6"},{"offset":0.376,"color":"#fff"},{"offset":0.4,"color":"#fff"},
{"offset":0.4,"color":"#00a6e6"},{"offset":0.416,"color":"#00a6e6"},{"offset":0.416,"color":"#fff"},{"offset":0.44,"color":"#fff"},
{"offset":0.44,"color":"#00a6e6"},{"offset":0.456,"color":"#00a6e6"},{"offset":0.456,"color":"#fff"},{"offset":0.48,"color":"#fff"},
{"offset":0.48,"color":"#00a6e6"},{"offset":0.496,"color":"#00a6e6"},{"offset":0.496,"color":"#fff"},{"offset":0.52,"color":"#fff"},
{"offset":0.52,"color":"#00a6e6"},{"offset":0.536,"color":"#00a6e6"},{"offset":0.536,"color":"#fff"},{"offset":0.56,"color":"#fff"},
{"offset":0.56,"color":"#00a6e6"},{"offset":0.576,"color":"#00a6e6"},{"offset":0.576,"color":"#fff"},{"offset":0.6,"color":"#fff"},
{"offset":0.6,"color":"#00a6e6"},{"offset":0.616,"color":"#00a6e6"},{"offset":0.616,"color":"#fff"},{"offset":0.64,"color":"#fff"},
{"offset":0.64,"color":"#00a6e6"},{"offset":0.656,"color":"#00a6e6"},{"offset":0.656,"color":"#fff"},{"offset":0.68,"color":"#fff"},
{"offset":0.68,"color":"#00a6e6"},{"offset":0.696,"color":"#00a6e6"},{"offset":0.696,"color":"#fff"},{"offset":0.72,"color":"#fff"},
{"offset":0.72,"color":"#00a6e6"},{"offset":0.736,"color":"#00a6e6"},{"offset":0.736,"color":"#fff"},{"offset":0.76,"color":"#fff"},
{"offset":0.76,"color":"#00a6e6"},{"offset":0.776,"color":"#00a6e6"},{"offset":0.776,"color":"#fff"},{"offset":0.8,"color":"#fff"},
{"offset":0.8,"color":"#00a6e6"},{"offset":0.816,"color":"#00a6e6"},{"offset":0.816,"color":"#fff"},{"offset":0.84,"color":"#fff"},
{"offset":0.84,"color":"#00a6e6"},{"offset":0.856,"color":"#00a6e6"},{"offset":0.856,"color":"#fff"},{"offset":0.88,"color":"#fff"},
{"offset":0.88,"color":"#00a6e6"},{"offset":0.896,"color":"#00a6e6"},{"offset":0.896,"color":"#fff"},{"offset":0.92,"color":"#fff"},
{"offset":0.92,"color":"#00a6e6"},{"offset":0.936,"color":"#00a6e6"},{"offset":0.936,"color":"#fff"},{"offset":0.96,"color":"#fff"},
{"offset":0.96,"color":"#00a6e6"},{"offset":0.976,"color":"#00a6e6"},{"offset":0.976,"color":"#fff"},{"offset":1,"color":"#fff"}
]}},
"encoding":{"y":{"field":"bottom","type":"quantitative","title":null}}},
{"transform":[{"fold":["bottom","median","top"],"as":["series","value"]}],
"mark":{"type":"point","filled":true,"opacity":0},
"encoding":{"y":{"field":"value","type":"quantitative","title":null},
"color":{"field":"series","type":"nominal","scale":{"domain":["bottom","median","top"],"range":["#00a6e6","#b4d236","#ea507c"]},
"legend":{"title":null,"labelExpr":"datum.label == 'bottom' ? 'Bottom Quartile Net IRR Boundary' : datum.label == 'median' ? 'Median Net IRR' : 'Top Quartile Net IRR Boundary'"}},
"shape":{"field":"series","type":"nominal","scale":{"domain":["bottom","median","top"],"range":[
"M-1,-0.3L0,-1L1,-0.3L1,0.05L0,-0.65L-1,0.05Z M-1,0.6L0,-0.1L1,0.6L1,0.95L0,0.25L-1,0.95Z",
"M-1,-0.65H1V-0.12H-1Z M-1,0.18H1V0.71H-1Z",
"M-1,-0.55L-0.55,-1L-0.2,-1L-1,-0.2Z M-1,0.15L0.15,-1L0.5,-1L-1,0.5Z M-1,0.85L0.85,-1L1,-1L1,-0.8L-0.8,1L-1,1Z M-0.1,1L1,-0.1L1,0.25L0.25,1Z M0.6,1L1,0.6L1,0.95L0.95,1Z"]},
"legend":{"title":null,"labelExpr":"datum.label == 'bottom' ? 'Bottom Quartile Net IRR Boundary' : datum.label == 'median' ? 'Median Net IRR' : 'Top Quartile Net IRR Boundary'"}}}}
],
"config":{"view":{"stroke":null},"font":"DejaVu Sans",
"legend":{"orient":"none","legendX":-67,"legendY":557,"direction":"horizontal","padding":0,"labelFont":"DejaVu Sans","labelFontSize":22.7,"labelFontWeight":"bold","labelColor":"#000","labelLimit":600,"symbolSize":289,"symbolOpacity":1,"symbolStrokeWidth":0,"labelOffset":5,"columnPadding":49}}
}
